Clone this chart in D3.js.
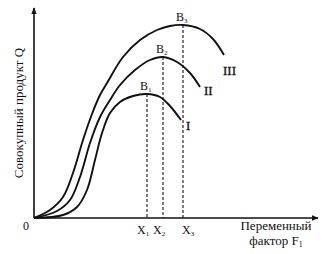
<!DOCTYPE html>
<html>
<head>
<meta charset="utf-8">
<script src="https://cdn.jsdelivr.net/npm/d3@7"></script>
<style>
  body { margin: 0; background: #fff; }
  text { font-family: "Liberation Serif", "DejaVu Serif", serif; fill: #111; }
</style>
</head>
<body>
<div id="chart"></div>
<script>
var width = 336,
    height = 254;

// curves (x = variable factor, y = total product)
var curveI = [[0,0],[2.9,0.3],[4.3,1.1],[5.3,2.8],[6.1,5.8],[6.8,8.5],[7.6,10.5],[8.6,11.6],[9.9,12.2],[11.3,12.4],[12.6,12.1],[13.6,11.2],[14.7,9.8]];
var curveII = [[0,0],[2.3,0.7],[3.6,1.8],[4.6,4.1],[5.6,7.5],[6.6,10.1],[7.6,11.8],[8.6,13.3],[10.1,14.8],[11.6,15.8],[12.9,16.1],[14.3,15.6],[15.6,14.5],[16.6,13.1]];
var curveIII = [[0,0],[1.6,0.8],[2.9,2.1],[3.9,4.5],[4.9,7.8],[5.8,10.4],[6.6,12.3],[7.3,13.5],[8.9,16.1],[10.6,17.8],[12.3,18.8],[13.6,19.2],[14.9,19.3],[16.6,18.9],[17.9,17.9],[19.0,16.3]];
var curveNames = ["I", "II", "III"];

// peaks B1..B3
var peakX = [11.3, 12.9, 14.9];
var peakY = [12.4, 16.1, 19.3];
var peakNames = ["1", "2", "3"];

// where the roman labels sit relative to each curve end (px)
var labelOffset = [[5, 10], [4, 8], [-1, 20]];

var x = d3.scaleLinear().domain([0, 28.4]).range([34, 318]);
var y = d3.scaleLinear().domain([0, 21]).range([218, 8]);

var svg = d3.select("#chart").append("svg")
    .attr("width", width)
    .attr("height", height);

var defs = svg.append("defs");
defs.append("marker")
    .attr("id", "arrow")
    .attr("viewBox", "0 0 10 10")
    .attr("refX", 9).attr("refY", 5)
    .attr("markerWidth", 7).attr("markerHeight", 7)
    .attr("markerUnits", "userSpaceOnUse")
    .attr("orient", "auto")
  .append("path")
    .attr("d", "M0,1 L10,5 L0,9 Z")
    .attr("fill", "#111");

// axes
svg.append("line")
    .attr("x1", x(0)).attr("y1", y(0))
    .attr("x2", x(0)).attr("y2", y(21))
    .attr("stroke", "#111").attr("stroke-width", 1.6)
    .attr("marker-end", "url(#arrow)");
svg.append("line")
    .attr("x1", x(0)).attr("y1", y(0))
    .attr("x2", x(28.4)).attr("y2", y(0))
    .attr("stroke", "#111").attr("stroke-width", 1.4)
    .attr("marker-end", "url(#arrow)");

// dashed drop lines
svg.selectAll(".drop")
    .data(peakX)
  .enter().append("line")
    .attr("class", "drop")
    .attr("x1", function(d) { return x(d); })
    .attr("x2", function(d) { return x(d); })
    .attr("y1", function(d, i) { return y(peakY[i]); })
    .attr("y2", y(0))
    .attr("stroke", "#111")
    .attr("stroke-width", 1.1)
    .attr("stroke-dasharray", "3,2");

var line = d3.line()
    .x(function(d) { return x(d[0]); })
    .y(function(d) { return y(d[1]); })
    .curve(d3.curveCatmullRom.alpha(0.5));

var curves = [curveI, curveII, curveIII];
svg.selectAll(".curve")
    .data(curves)
  .enter().append("path")
    .attr("class", "curve")
    .attr("d", line)
    .attr("fill", "none")
    .attr("stroke", "#111")
    .attr("stroke-width", 1.9);

// roman labels at curve ends
svg.selectAll(".cname")
    .data(curves)
  .enter().append("text")
    .attr("class", "cname")
    .attr("x", function(d, i) { return x(d[d.length - 1][0]) + labelOffset[i][0]; })
    .attr("y", function(d, i) { return y(d[d.length - 1][1]) + labelOffset[i][1]; })
    .attr("font-size", 13)
    .attr("stroke", "#111").attr("stroke-width", 0.3)
    .text(function(d, i) { return curveNames[i]; });

// B labels above peaks
var bl = svg.selectAll(".bname")
    .data(peakX)
  .enter().append("text")
    .attr("class", "bname")
    .attr("x", function(d) { return x(d) - 7; })
    .attr("y", function(d, i) { return y(peakY[i]) - 4; })
    .attr("font-size", 12);
bl.append("tspan").text("B");
bl.append("tspan").attr("font-size", 7).attr("dy", 2)
    .text(function(d, i) { return peakNames[i]; });

// X labels under axis
var xl = svg.selectAll(".xname")
    .data(peakX)
  .enter().append("text")
    .attr("class", "xname")
    .attr("x", function(d, i) { return x(d) - (i === 2 ? 1 : 10); })
    .attr("y", y(0) + 16)
    .attr("font-size", 12);
xl.append("tspan").text("X");
xl.append("tspan").attr("font-size", 7).attr("dy", 2)
    .text(function(d, i) { return peakNames[i]; });

// origin
svg.append("text")
    .attr("x", 26).attr("y", 230)
    .attr("text-anchor", "middle")
    .attr("font-size", 12)
    .text("0");

// axis titles
svg.append("text")
    .attr("x", 276).attr("y", 230)
    .attr("text-anchor", "middle")
    .attr("font-size", 13)
    .text("Переменный");
var ft = svg.append("text")
    .attr("x", 276).attr("y", 245)
    .attr("text-anchor", "middle")
    .attr("font-size", 13);
ft.append("tspan").text("фактор  F");
ft.append("tspan").attr("font-size", 8).attr("dy", 2).text("1");

svg.append("text")
    .attr("transform", "translate(23,113) rotate(-90)")
    .attr("text-anchor", "middle")
    .attr("font-size", 13)
    .text("Совокупный продукт Q");
</script>
</body>
</html>
